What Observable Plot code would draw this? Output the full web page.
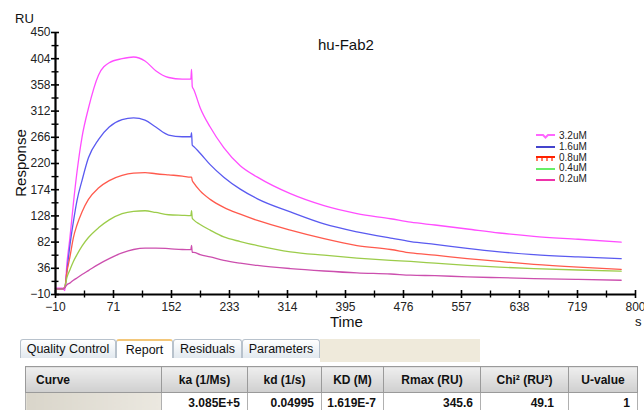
<!DOCTYPE html>
<html>
<head>
<meta charset="utf-8">
<script src="https://cdn.jsdelivr.net/npm/d3@7"></script>
<script src="https://cdn.jsdelivr.net/npm/@observablehq/plot@0.6"></script>
<style>
  html, body { margin: 0; padding: 0; background: #fff; }
  body { width: 644px; height: 410px; overflow: hidden; font-family: "Liberation Sans", Arial, sans-serif; }
  #wrap { position: relative; width: 644px; height: 410px; }
  #chart { position: absolute; left: 0; top: 0; }
  .lbl { position: absolute; color: #111; white-space: nowrap; }
  .legend { position: absolute; left: 536px; top: 131px; font-size: 10px; color: #222; line-height: 10.8px; }
  .legend div { display: flex; align-items: center; height: 10.8px; }
  .legend svg { margin-right: 4px; }
  .tab { position: absolute; top: 339px; height: 19px; border: 1px solid #b8c2cc; border-bottom: none;
         border-radius: 3px 3px 0 0; background: linear-gradient(#ffffff, #e2e9ef); font-size: 12.5px;
         line-height: 19px; text-align: center; color: #111; box-sizing: border-box; }
  .tab.sel { background: #fff; border-top: 2px solid #f3c77a; line-height: 18px; }
  .beige { position: absolute; left: 320px; top: 339px; width: 160px; height: 23px; background: #efeadb; }
  table { position: absolute; left: 25px; top: 366px; border-collapse: collapse; table-layout: fixed; font-size: 12px; }
  th { height: 25px; background: linear-gradient(#eeeeee, #cfcfcf); border: 1px solid #9a9a9a; font-weight: bold;
       text-align: center; padding: 0; color: #111; }
  th.first { text-align: left; padding-left: 10px; }
  td { height: 20px; border: 1px solid #b0b0b0; font-weight: bold; text-align: right; padding: 0 7px 0 0; color: #111; }
  td.first { background: linear-gradient(90deg, #d9d5ca, #ebe8e0); }
</style>
</head>
<body>
<div id="wrap">
  <div id="chart"></div>
  <div class="lbl" style="left:15px; top:11px; font-size:13px;">RU</div>
  <div class="lbl" style="left:318px; top:36px; font-size:15px;">hu-Fab2</div>
  <div class="lbl" style="left:20px; top:163px; font-size:15px; transform: translate(-50%,-50%) rotate(-90deg);">Response</div>
  <div class="lbl" style="left:330px; top:313px; font-size:15px;">Time</div>
  <div class="lbl" style="left:635px; top:314px; font-size:13px;">s</div>
  <div class="legend" id="legend"></div>

  <div class="tab" style="left:20px; width:96px;">Quality Control</div>
  <div class="tab sel" style="left:116px; width:57px;">Report</div>
  <div class="tab" style="left:173px; width:69px;">Residuals</div>
  <div class="tab" style="left:242px; width:78px;">Parameters</div>
  <div class="beige"></div>

  <table>
    <colgroup>
      <col style="width:136px"><col style="width:86px"><col style="width:74px"><col style="width:62px">
      <col style="width:97px"><col style="width:88px"><col style="width:69px">
    </colgroup>
    <thead><tr id="hdr"></tr></thead>
    <tbody><tr id="row"></tr></tbody>
  </table>
</div>
<script>
// ---- data ----
const concentrations = ["3.2uM", "1.6uM", "0.8uM", "0.4uM", "0.2uM"];
const lineColors = ["#ff4dff", "#5a5af0", "#ff5a4d", "#9ccc4a", "#cc4fae"];
const legendColors = ["#ff66ff", "#4444cc", "#ff2200", "#66ee66", "#ee33aa"];

const times = [-10, 0, 3, 6, 10, 15, 20, 27, 36, 50, 65, 83, 99, 115, 130, 148, 167, 179, 180, 181, 183, 192, 206, 225, 248, 272, 318, 365, 411, 458, 486, 520, 565, 610, 658, 720, 780];

const resp32 = [1, 1, -3, 45, 88, 150, 205, 266, 317, 375, 397, 404, 407, 400, 383, 371, 368, 368, 385, 355, 350, 318, 284, 248, 216, 196, 167, 146, 132, 123, 117, 112, 105, 98, 92, 87, 82];
const resp16 = [0, 0, 2, 32, 75, 118, 155, 190, 230, 262, 284, 297, 300, 296, 284, 270, 267, 267, 274, 252, 250, 238, 218, 196, 175, 158, 135, 114, 100, 89, 83, 78, 71, 65, 60, 56, 53];
const resp08 = [0, 0, 3, 30, 55, 90, 112, 135, 157, 177, 190, 199, 203, 204, 202, 200, 198, 196, 196, 190, 186, 172, 157, 143, 131, 120, 103, 88, 76, 69, 63, 59, 53, 48, 43, 38, 34];
const resp04 = [0, 0, 3, 20, 33, 48, 60, 75, 90, 107, 121, 132, 136, 137, 134, 130, 129, 128.5, 137, 124, 121, 113, 103, 91, 83, 76, 65, 59, 54, 50, 48, 45, 41, 38, 35.5, 33, 31];
const resp02 = [0, 0, 2, 7, 10, 15, 19, 25, 32, 43, 53, 63, 69, 71.5, 71.5, 70.5, 69, 68.7, 76, 64, 64, 60, 56, 50, 45, 41, 35.5, 31.3, 28, 26, 24, 23, 21, 19.5, 18, 16.5, 15];

const yTicks = [-10, 36, 82, 128, 174, 220, 266, 312, 358, 404, 450];
const yMinor = [13, 59, 105, 151, 197, 243, 289, 335, 381, 427];
const xTicks = [-10, 71, 152, 233, 314, 395, 476, 557, 638, 719, 800];
const xMinor = [30.5, 111.5, 192.5, 273.5, 354.5, 435.5, 516.5, 597.5, 678.5, 759.5];

const headers = ["Curve", "ka (1/Ms)", "kd (1/s)", "KD (M)", "Rmax (RU)", "Chi² (RU²)", "U-value"];
const rowValues = ["", "3.085E+5", "0.04995", "1.619E-7", "345.6", "49.1", "1"];

// ---- build ----
const seriesList = [resp32, resp16, resp08, resp04, resp02];
const data = [];
seriesList.forEach((s, i) => times.forEach((t, j) => data.push({t, v: s[j], c: concentrations[i]})));

const chart = Plot.plot({
  width: 644,
  height: 335,
  marginLeft: 55,
  marginRight: 9,
  marginTop: 32,
  marginBottom: 41,
  x: {domain: [-10, 800]},
  y: {domain: [-10, 450]},
  color: {domain: concentrations, range: lineColors},
  style: {fontFamily: "'Liberation Sans', Arial, sans-serif", fontSize: "12px", color: "#222", background: "transparent"},
  marks: [
    Plot.line(data, {x: "t", y: "v", z: "c", stroke: "c", strokeWidth: 1.3, curve: "monotone-x"}),
    Plot.axisY(yTicks, {anchor: "left", tickSize: 8, dx: 4, text: null, label: null, strokeWidth: 1.6, stroke: "#000"}),
    Plot.axisY(yMinor, {anchor: "left", tickSize: 7, dx: 3.5, text: null, label: null, strokeWidth: 1.4, stroke: "#000"}),
    Plot.axisY(yTicks, {anchor: "left", tickSize: 0, tickPadding: 5, label: null, fill: "#222"}),
    Plot.axisX(xTicks, {anchor: "bottom", tickSize: 8, dy: -4, text: null, label: null, strokeWidth: 1.6, stroke: "#000"}),
    Plot.axisX(xMinor, {anchor: "bottom", tickSize: 7, dy: -3.5, text: null, label: null, strokeWidth: 1.4, stroke: "#000"}),
    Plot.axisX(xTicks, {anchor: "bottom", tickSize: 0, tickPadding: 8, label: null, fill: "#222"}),
    Plot.ruleX([-10], {strokeWidth: 2.2, stroke: "#000"}),
    Plot.ruleY([-10], {strokeWidth: 2.2, stroke: "#000"})
  ]
});
document.getElementById("chart").appendChild(chart);

// legend
const leg = document.getElementById("legend");
concentrations.forEach((c, i) => {
  const d = document.createElement("div");
  let sw = `<svg width="19" height="8">`;
  if (i === 0) sw += `<polyline points="0,3 7,3 9.5,5.5 12,3 19,3" fill="none" stroke="${legendColors[i]}" stroke-width="2"/>`;
  else if (i === 2) sw += `<line x1="0" y1="3" x2="19" y2="3" stroke="${legendColors[i]}" stroke-width="2"/>` +
    [1, 6, 11, 16].map(x => `<line x1="${x}" y1="3" x2="${x}" y2="7" stroke="${legendColors[i]}" stroke-width="1.2"/>`).join("");
  else sw += `<line x1="0" y1="4" x2="19" y2="4" stroke="${legendColors[i]}" stroke-width="2"/>`;
  sw += `</svg>`;
  d.innerHTML = sw + `<span>${c}</span>`;
  leg.appendChild(d);
});

// table
const hdr = document.getElementById("hdr");
headers.forEach((h, i) => { const th = document.createElement("th"); th.textContent = h; if (i === 0) th.className = "first"; hdr.appendChild(th); });
const row = document.getElementById("row");
rowValues.forEach((v, i) => { const td = document.createElement("td"); td.textContent = v; if (i === 0) td.className = "first"; if (i === 5) td.style.paddingRight = "14px"; row.appendChild(td); });
</script>
</body>
</html>
